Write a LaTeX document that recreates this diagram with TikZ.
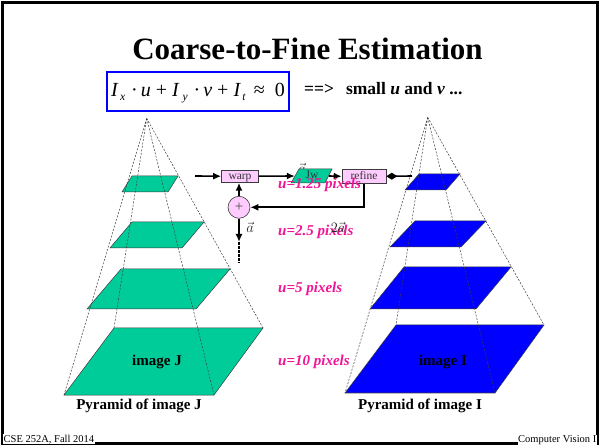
\documentclass[tikz,border=0pt]{standalone}
\usepackage{fontspec}
\setmainfont{Liberation Serif}
\usetikzlibrary{arrows.meta}
\definecolor{pgreen}{RGB}{0,204,153}
\definecolor{pblue}{RGB}{0,0,255}
\definecolor{ppink}{RGB}{255,204,255}
\definecolor{pmag}{RGB}{240,20,150}
\definecolor{pline}{RGB}{60,60,60}
\newcommand{\subx}[1]{\raisebox{-4pt}{\fontsize{11.5}{11.5}\selectfont\textit{#1}}}
\tikzset{
  greenlvl/.style={fill=pgreen,draw=pline,line width=0.5pt},
  bluelvl/.style={fill=pblue,draw=pline,line width=0.5pt},
  pyredge/.style={draw=pline,line width=0.5pt,dash pattern=on 2pt off 1.5pt},
  opbox/.style={draw=pline,fill=ppink,line width=0.6pt,inner sep=0pt,text height=8pt,text depth=2pt,font=\fontsize{11.5}{11.5}\selectfont,text=black!80},
  arr/.style={line width=1.6pt,-{Latex[length=8pt,width=7pt]}},
  maglbl/.style={anchor=west,text=pmag,font=\fontsize{15}{15}\selectfont\bfseries\itshape,inner sep=0pt},
  lbl/.style={font=\fontsize{15}{15}\selectfont\bfseries,inner sep=0pt},
  veclbl/.style={inner sep=0pt,font=\fontsize{15}{15}\selectfont,text=black!85},
  foot/.style={font=\fontsize{10.5}{10.5}\selectfont,inner sep=0.5pt,fill=white},
}
\begin{document}
\begin{tikzpicture}[x=1pt,y=-1pt]
\useasboundingbox (0,0) rectangle (600,446);
\fill[white] (0,0) rectangle (600,446);
\draw[line width=2.5pt] (2.5,2.5) rectangle (597.5,443.5);

% title
\node[anchor=base,inner sep=0pt,font=\fontsize{31}{31}\selectfont\bfseries] (title) at (307.5,60) {Coarse-to-Fine Estimation};
\node[draw=pblue,line width=1.6pt,minimum width=182pt,minimum height=39pt,inner sep=0pt] (eqbox) at (198,91.5) {};
\node[anchor=base,inner sep=0pt,font=\fontsize{20}{20}\selectfont] (eq) at (198,97)
  {\textit{I}\kern1.5pt\subx{x}\kern6pt·\kern3pt\textit{u}\kern5pt+\kern5pt\textit{I}\kern3pt\subx{y}\kern6pt·\kern3pt\textit{v}\kern5pt+\kern5pt\textit{I}\kern1.5pt\subx{t}\kern8pt≈\kern10pt0};
\node[anchor=base west,inner sep=0pt,font=\fontsize{17.5}{17.5}\selectfont\bfseries] (impl) at (304,95) {==>\kern12pt small \textit{u} and \textit{v} ...};

% left pyramid
\coordinate (aJ) at (146.7,118.3);
\coordinate (jBL) at (64,395); \coordinate (jBR) at (214,395);
\coordinate (jTL) at (114,328); \coordinate (jTR) at (263,328);
\path[greenlvl] (132,176) -- (178,176) -- (168,192) -- (122,192) -- cycle;
\path[greenlvl] (132,222) -- (204,222) -- (182,248) -- (110,248) -- cycle;
\path[greenlvl] (121,269) -- (230,269) -- (196,309) -- (87,309) -- cycle;
\path[greenlvl] (jTL) -- (jTR) -- (jBR) -- (jBL) -- cycle;
\draw[pyredge] (aJ) -- (jBL) (aJ) -- (jTL) (aJ) -- (jTR) (aJ) -- (jBR);
\node[lbl] (imJ) at (157,362) {image J};
\node[lbl] (pyrJ) at (139,406) {Pyramid of image J};

% right pyramid
\coordinate (aI) at (427.7,117.3);
\coordinate (iBL) at (345,393); \coordinate (iBR) at (495,393);
\coordinate (iTL) at (396,325); \coordinate (iTR) at (544,325);
\path[bluelvl] (419,174) -- (460,174) -- (446,190) -- (405,190) -- cycle;
\path[bluelvl] (415,221) -- (486,221) -- (461,247) -- (390,247) -- cycle;
\path[bluelvl] (404,267) -- (511,267) -- (476,309) -- (370,309) -- cycle;
\path[bluelvl] (iTL) -- (iTR) -- (iBR) -- (iBL) -- cycle;
\draw[pyredge] (aI) -- (iBL) (aI) -- (iTL) (aI) -- (iTR) (aI) -- (iBR);
\node[lbl] (imI) at (443,362) {image I};
\node[lbl] (pyrI) at (420,406) {Pyramid of image I};

% middle loop
\node[veclbl] (ahid) at (302,168) {$\vec{a}$};
\path[greenlvl] (299,169) -- (332,169) -- (325,183) -- (291,183) -- cycle;
\node[inner sep=0pt,minimum width=34pt,minimum height=14pt,text height=8pt,text depth=2pt,font=\fontsize{11.5}{11.5}\selectfont,text=black!80] (jw) at (312,176) {Jw};
\node[opbox,minimum width=37pt,minimum height=12.5pt] (warp) at (240,176.2) {warp};
\node[opbox,minimum width=44pt,minimum height=14pt] (refine) at (364,176.3) {refine};
\node[circle,draw=pline,fill=ppink,line width=0.6pt,minimum size=22pt,inner sep=0pt,font=\fontsize{15}{15}\selectfont,text=black!70] (plus) at (239,207.3) {+};
\coordinate (inJ) at (195,176);
\coordinate (outI) at (412,176);
\coordinate (dn) at (239,242);
\coordinate (dnend) at (239,263);
\draw[arr] (inJ) -- (warp.west);
\draw[arr] (warp.east) -- (jw.west);
\draw[arr] (jw.east) -- (refine.west);
\draw[line width=1.6pt,{Diamond[length=11pt,width=7pt]}-] (refine.east) -- (outI);
\draw[arr] (refine.south) |- (plus.east);
\draw[arr] (plus.north) -- (plus.north |- warp.south);
\draw[arr] (plus.south) -- (dn);
\draw[line width=1.6pt,dash pattern=on 3pt off 1pt] (dn) -- (dnend);
\node[veclbl] (avec) at (250,227) {$\vec{a}$};

% magenta labels
\node[maglbl] (u1) at (278,185) {u=1.25 pixels};
\node[maglbl] (u2) at (278,232) {u=2.5 pixels};
\node[maglbl] (u3) at (278,289) {u=5 pixels};
\node[maglbl] (u4) at (278,362) {u=10 pixels};
\node[veclbl] (twoa) at (338,227) {$2\vec{a}$};

% footer
\node[foot,anchor=base west] (fl) at (3,442) {CSE 252A, Fall 2014};
\node[foot,anchor=base east] (fr) at (597,442) {Computer Vision I};
\end{tikzpicture}
\end{document}
